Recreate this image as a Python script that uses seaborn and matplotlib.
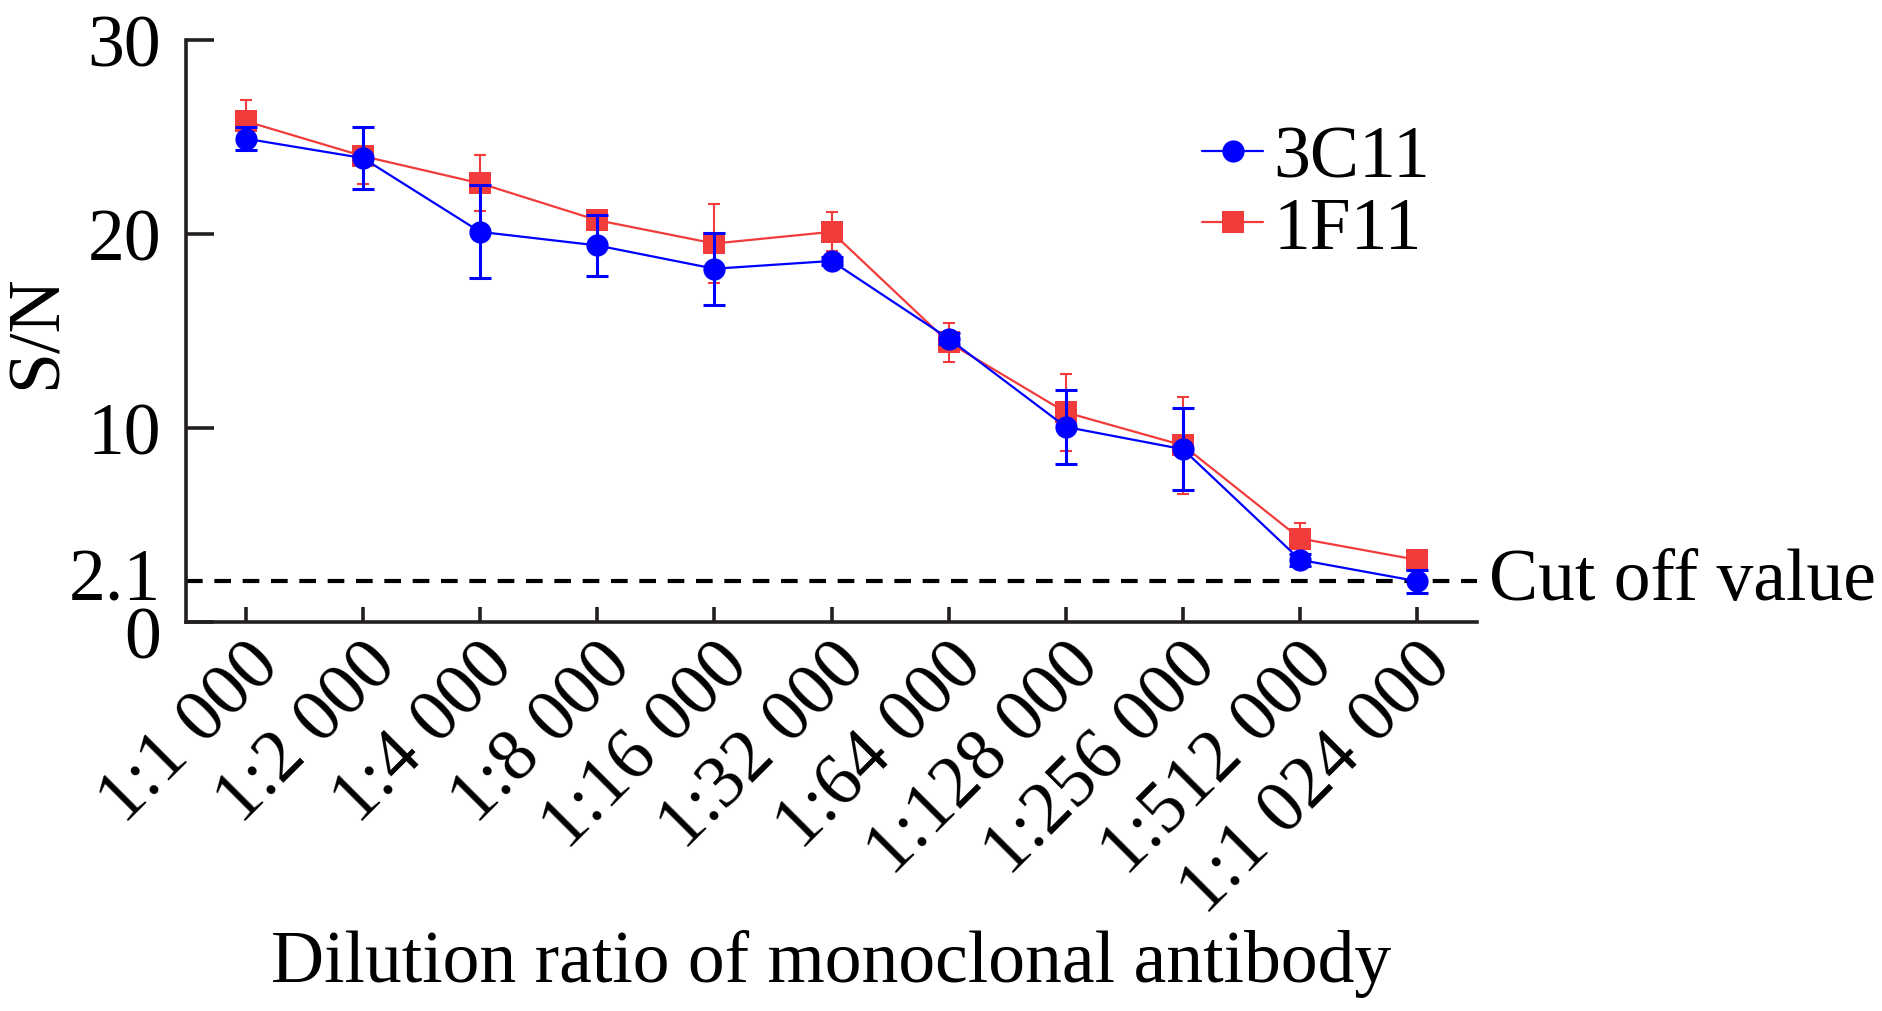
import numpy as np
import pandas as pd
import matplotlib
matplotlib.use("Agg")
import matplotlib.pyplot as plt
import matplotlib.transforms as mtransforms
import seaborn as sns

# dilution series and S/N readings (mean and SD)
dilutions = ["1:1 000", "1:2 000", "1:4 000", "1:8 000", "1:16 000", "1:32 000",
             "1:64 000", "1:128 000", "1:256 000", "1:512 000", "1:1 024 000"]
sn_3c11 = [24.9, 23.9, 20.1, 19.4, 18.2, 18.6, 14.6, 10.05, 8.9, 3.2, 2.1]
sd_3c11 = [0.6, 1.6, 2.4, 1.55, 1.85, 0.2, 0.3, 1.9, 2.1, 0.3, 0.6]
sn_1f11 = [25.8, 24.0, 22.6, 20.7, 19.5, 20.1, 14.4, 10.8, 9.1, 4.3, 3.2]
sd_1f11 = [1.1, 1.45, 1.45, 0.4, 2.05, 1.0, 1.0, 2.0, 2.5, 0.8, 0.3]
cutoff = 2.1
y_ticks = [0, 2.1, 10, 20, 30]

blue = "#0000ff"
red = "#f23c3c"
ink = "#231f20"

df = pd.DataFrame({
    "pos": np.arange(len(dilutions)),
    "3C11": sn_3c11,
    "1F11": sn_1f11,
})

sns.set_style("ticks")
plt.rcParams["font.family"] = ["Liberation Serif", "DejaVu Serif"]
plt.rcParams["text.color"] = "black"
plt.rcParams["axes.labelcolor"] = "black"

fig = plt.figure(figsize=(18.83, 10.12), dpi=100)
ax = fig.add_axes([0.0988, 0.3844, 0.6856, 0.5754])

fs = 53

# red series first so the blue one sits on top
ax.errorbar(df["pos"], df["1F11"], yerr=sd_1f11, fmt="none", ecolor=red,
            elinewidth=1.5, capsize=4.5, capthick=1.5, zorder=2)
sns.lineplot(data=df, x="pos", y="1F11", ax=ax, color=red, lw=1.6,
             marker="s", markersize=16, markeredgewidth=0, label="1F11", zorder=3)
ax.errorbar(df["pos"], df["3C11"], yerr=sd_3c11, fmt="none", ecolor=blue,
            elinewidth=2.2, capsize=8, capthick=2.2, zorder=4)
sns.lineplot(data=df, x="pos", y="3C11", ax=ax, color=blue, lw=1.6,
             marker="o", markersize=16, markeredgewidth=0, label="3C11", zorder=5)

ax.axhline(cutoff, color="black", lw=3, linestyle=(0, (4, 2.8)), zorder=1)
ax.text(1.009, cutoff, "Cut off value", transform=ax.get_yaxis_transform(),
        fontsize=fs, va="center", ha="left", color="black", clip_on=False)

ax.set_xlim(-0.51, len(dilutions) - 0.49)
ax.set_ylim(0, 30)
ax.set_xticks(df["pos"])
ax.set_xticklabels(dilutions, rotation=45, ha="right", va="top",
                   rotation_mode="anchor", fontsize=fs)
ax.set_yticks(y_ticks)
ax.set_yticklabels([f"{t:g}" for t in y_ticks], fontsize=fs)

for side in ["top", "right"]:
    ax.spines[side].set_visible(False)
for side in ["left", "bottom"]:
    ax.spines[side].set_linewidth(2.6)
    ax.spines[side].set_color(ink)

ax.tick_params(axis="y", direction="in", length=20, width=2.6, color=ink,
               labelcolor="black", pad=18)
ax.tick_params(axis="x", direction="in", length=11, width=2.6, color=ink,
               labelcolor="black", pad=6)
# no tick mark for the cut-off label
ax.yaxis.get_major_ticks()[1].tick1line.set_markersize(0)

# nudge the crowded "0" and "2.1" labels apart
ylabels = ax.get_yticklabels()
ylabels[0].set_transform(ylabels[0].get_transform() +
                         mtransforms.ScaledTranslation(0, -10 / 100, fig.dpi_scale_trans))
ylabels[1].set_transform(ylabels[1].get_transform() +
                         mtransforms.ScaledTranslation(0, 7 / 100, fig.dpi_scale_trans))

ax.set_xlabel("Dilution ratio of monoclonal antibody", fontsize=fs, va="center")
ax.xaxis.set_label_coords(0.5, -0.585)
ax.set_ylabel("S/N", fontsize=fs, va="center")
ax.yaxis.set_label_coords(-0.115, 0.5)

handles, labels = ax.get_legend_handles_labels()
order = [labels.index("3C11"), labels.index("1F11")]
ax.legend([handles[i] for i in order], [labels[i] for i in order],
          loc="upper left", bbox_to_anchor=(0.787, 0.853), frameon=False,
          fontsize=fs, handlelength=0.83, handletextpad=0.14,
          labelspacing=0.05, borderpad=0, borderaxespad=0)

fig.savefig("out.png", dpi=100)
